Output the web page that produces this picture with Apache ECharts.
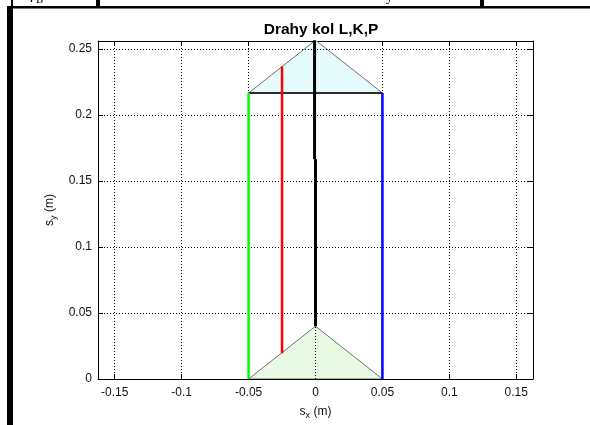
<!DOCTYPE html>
<html><head><meta charset="utf-8">
<script src="https://cdn.jsdelivr.net/npm/echarts@6/dist/echarts.min.js"></script>
<style>html,body{margin:0;padding:0;background:#fff}#c{width:590px;height:425px}</style>
</head><body><div id="c"></div><script>
// ---- data ----
const xTicks = [-0.15, -0.1, -0.05, 0, 0.05, 0.1, 0.15];
const yTicks = [0, 0.05, 0.1, 0.15, 0.2, 0.25];
const xRange = [-0.1625, 0.1625];
const yRange = [0, 0.256];
const wheelL = [[-0.05, 0], [-0.05, 0.2166]];
const wheelK = [[-0.025, 0.0195], [-0.025, 0.2366]];
const wheelP = [[0.05, 0], [0.05, 0.2166]];
const centerLow = [[0, 0.04], [0, 0.1664]];
const centerHigh = [[-0.0007, 0.1664], [-0.0007, 0.2566]];
const triStart = [[-0.05, 0], [0.05, 0], [0, 0.04]];
const triEnd = [[-0.05, 0.2166], [0.05, 0.2166], [0, 0.2566]];
const triEndBase = [[-0.05, 0.2166], [0.05, 0.2166]];

const FONT = 'Liberation Sans, Arial, sans-serif';
const chart = echarts.init(document.getElementById('c'), null, {renderer: 'canvas'});

function tri(points, fill) {
  return {
    type: 'custom', xAxisIndex: 0, yAxisIndex: 0, z: 1, silent: true, clip: true,
    data: [0],
    renderItem: function (params, api) {
      return {
        type: 'polygon',
        shape: {points: points.map(p => api.coord(p))},
        style: {fill: fill, stroke: '#707070', lineWidth: 1}
      };
    }
  };
}
function seg(data, color, width, z) {
  return {type: 'line', data: data, symbol: 'none', silent: true, z: z || 5,
    lineStyle: {color: color, width: width, cap: 'butt'}, clip: true};
}

const axisCommon = {
  type: 'value', axisLine: {show: true, onZero: false, lineStyle: {color: '#000', width: 1}},
  splitLine: {show: false}
};

chart.setOption({
  animation: false,
  backgroundColor: '#fff',
  title: {
    text: 'Drahy kol L,K,P', left: 316, textAlign: 'center', top: 17,
    textStyle: {fontFamily: FONT, fontSize: 15.5, fontWeight: 'bold', color: '#000'}
  },
  grid: {left: 98, right: 57, top: 41, bottom: 44},
  xAxis: [
    Object.assign({}, axisCommon, {
      position: 'bottom', min: xRange[0], max: xRange[1],
      axisTick: {show: true, inside: true, length: 5, customValues: xTicks, lineStyle: {color: '#000'}},
      axisLabel: {customValues: xTicks, margin: 8, fontFamily: FONT, fontSize: 12, color: '#111'},
      name: '{a|s}{b|x}{a| (m)}', nameLocation: 'middle', nameGap: 24,
      nameTextStyle: {rich: {
        a: {fontFamily: FONT, fontSize: 12, color: '#111'},
        b: {fontFamily: FONT, fontSize: 9, color: '#111', padding: [8, 0, 0, 0]}
      }}
    }),
    Object.assign({}, axisCommon, {
      position: 'top', min: xRange[0], max: xRange[1],
      axisTick: {show: true, inside: true, length: 5, customValues: xTicks, lineStyle: {color: '#000'}},
      axisLabel: {show: false}
    })
  ],
  yAxis: [
    Object.assign({}, axisCommon, {
      position: 'left', min: yRange[0], max: yRange[1], interval: 0.05,
      axisTick: {show: true, inside: true, length: 5, customValues: yTicks, lineStyle: {color: '#000'}},
      axisLabel: {customValues: yTicks, margin: 6, fontFamily: FONT, fontSize: 12, color: '#111'},
      name: '{a|s}{b|y}{a| (m)}', nameLocation: 'middle', nameGap: 39, nameRotate: 90,
      nameTextStyle: {rich: {
        a: {fontFamily: FONT, fontSize: 12, color: '#111'},
        b: {fontFamily: FONT, fontSize: 9, color: '#111', padding: [8, 0, 0, 0]}
      }}
    }),
    Object.assign({}, axisCommon, {
      position: 'right', min: yRange[0], max: yRange[1], interval: 0.05,
      axisTick: {show: true, inside: true, length: 5, customValues: yTicks, lineStyle: {color: '#000'}},
      axisLabel: {show: false}
    })
  ],
  series: [
    tri(triStart, '#e8f9e4'),
    tri(triEnd, '#e6fbfb'),
    {
      type: 'line', data: [[xRange[0], yRange[0]]], symbol: 'none', z: 3, silent: true,
      lineStyle: {width: 0},
      markLine: {
        silent: true, symbol: ['none', 'none'], label: {show: false}, animation: false,
        lineStyle: {type: [1, 2], color: '#000', width: 1},
        emphasis: {disabled: true},
        data: xTicks.map(v => ({xAxis: v})).concat(yTicks.filter(v => v > 0).map(v => ({yAxis: v})))
      }
    },
    seg(triEndBase, '#000', 1.5, 4),
    seg(wheelL, '#00ff00', 2.5),
    seg(wheelK, '#ff0000', 2.5),
    seg(wheelP, '#0000ff', 2.5),
    seg(centerLow, '#000', 3),
    seg(centerHigh, '#000', 3)
  ],
  graphic: [
    {type: 'rect', shape: {x: 7, y: 6, width: 583, height: 2.5}, style: {fill: '#000'}, silent: true},
    {type: 'rect', shape: {x: 7, y: 6, width: 6, height: 419}, style: {fill: '#000'}, silent: true},
    {type: 'rect', shape: {x: 96, y: 0, width: 4, height: 8}, style: {fill: '#000'}, silent: true},
    {type: 'rect', shape: {x: 480, y: 0, width: 4, height: 8}, style: {fill: '#000'}, silent: true},
    {type: 'rect', shape: {x: 11, y: 0, width: 2, height: 8}, style: {fill: '#000'}, silent: true},
    {type: 'text', x: 30, y: -11, silent: true,
      style: {text: '{i|r}{s|B}', rich: {
        i: {fontFamily: 'Liberation Serif, serif', fontStyle: 'italic', fontSize: 16, fill: '#000'},
        s: {fontFamily: 'Liberation Serif, serif', fontStyle: 'italic', fontSize: 11, fill: '#000', padding: [6, 0, 0, 0]}
      }}},
    {type: 'text', x: 386, y: -10, silent: true,
      style: {text: 'y', fontFamily: 'Liberation Serif, serif', fontSize: 14, fill: '#000'}}
  ]
});
</script></body></html>
